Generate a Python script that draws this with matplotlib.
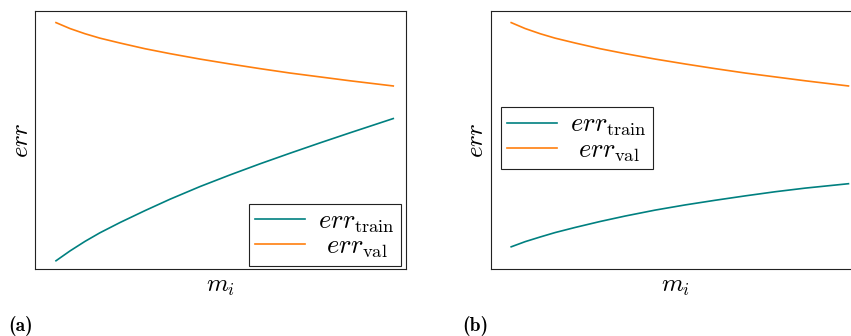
import matplotlib
matplotlib.use("Agg")
import matplotlib.pyplot as plt

plt.rcParams["mathtext.fontset"] = "cm"
plt.rcParams["font.family"] = "serif"
plt.rcParams["font.serif"] = ["cmr10", "DejaVu Serif"]
plt.rcParams["axes.unicode_minus"] = False

# model size m_i (arbitrary units)
m = [0.0, 0.0415, 0.086, 0.130, 0.190, 0.264, 0.338, 0.427,
     0.516, 0.605, 0.694, 0.783, 0.872, 1.0]

# (a) train error rises towards the validation error
err_train_a = [0.033, 0.071, 0.108, 0.141, 0.181, 0.227, 0.271, 0.320,
               0.365, 0.408, 0.449, 0.489, 0.528, 0.583]
err_val_a = [0.954, 0.931, 0.911, 0.894, 0.875, 0.853, 0.834, 0.813,
             0.794, 0.776, 0.759, 0.744, 0.729, 0.709]

# (b) both errors flatten out far apart
err_train_b = [0.087, 0.107, 0.125, 0.142, 0.162, 0.185, 0.206, 0.229,
               0.249, 0.267, 0.284, 0.300, 0.314, 0.331]
err_val_b = [0.954, 0.931, 0.911, 0.894, 0.875, 0.853, 0.834, 0.813,
             0.794, 0.776, 0.759, 0.744, 0.729, 0.709]

teal = "#008080"
orange = "#ff7f0e"
lbl_train = r"$err_{\mathrm{train}}$"
lbl_val = r"$\hspace{0.35}err_{\mathrm{val}}$"

fig = plt.figure(figsize=(8.51, 3.36), dpi=100)
ax_a = fig.add_axes([0.0417, 0.1985, 0.435, 0.7696])
ax_b = fig.add_axes([0.5766, 0.1985, 0.435, 0.7696])

panels = [
    (ax_a, err_train_a, err_val_a, "lower right", (0.9865, 0.0128)),
    (ax_b, err_train_b, err_val_b, "upper left", (0.0278, 0.6265)),
]

for ax, tr, va, loc, anchor in panels:
    ax.plot(m, tr, color=teal, lw=1.2, label=lbl_train)
    ax.plot(m, va, color=orange, lw=1.2, label=lbl_val)
    ax.set_xlim(-0.0608, 1.0368)
    ax.set_ylim(0.0, 1.0)
    ax.set_xticks([])
    ax.set_yticks([])
    for s in ax.spines.values():
        s.set_linewidth(0.8)
        s.set_color("#222222")
    ax.set_xlabel(r"$m_i$", fontsize=18, labelpad=5)
    ax.set_ylabel(r"$err$", fontsize=18, labelpad=2)
    leg = ax.legend(loc=loc, bbox_to_anchor=anchor, borderaxespad=0,
                    fontsize=19, fancybox=False, framealpha=1,
                    edgecolor="#222222", handlelength=1.9,
                    labelspacing=0.0, borderpad=0.22, handletextpad=0.5)
    leg.get_frame().set_linewidth(0.8)

fig.text(8 / 851, 1 - 326 / 336, "(a)", fontfamily="cmb10", fontsize=14,
         va="center", ha="left")
fig.text(462 / 851, 1 - 326 / 336, "(b)", fontfamily="cmb10", fontsize=14,
         va="center", ha="left")

fig.savefig("out.png", dpi=100)
